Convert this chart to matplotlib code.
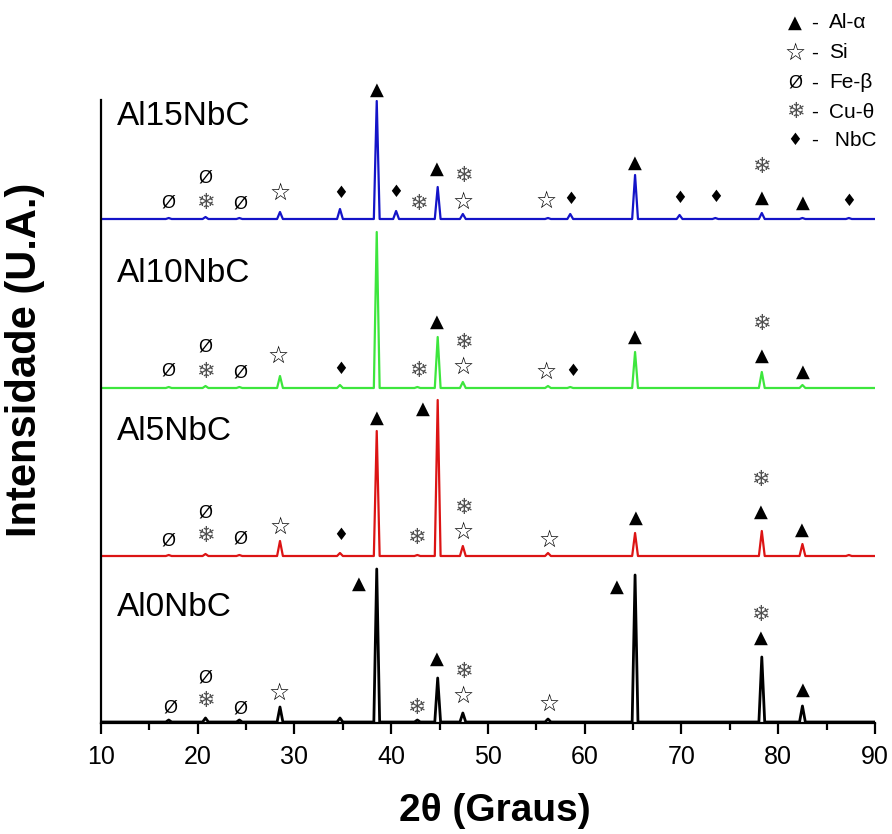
import matplotlib
matplotlib.use("Agg")
import matplotlib.pyplot as plt
from matplotlib.ticker import MultipleLocator

# amostras, de cima para baixo
samples = ["Al15NbC", "Al10NbC", "Al5NbC", "Al0NbC"]
colors = ["#1414c8", "#3de63d", "#dc1414", "#000000"]
widths = [1.6, 1.6, 1.6, 2.0]
offsets = [504, 335, 167, 1]          # deslocamento vertical de cada difratograma
label_h = [102, 114, 124, 115]        # altura do nome da amostra acima da linha base

# picos (2theta, intensidade relativa)
pk_15 = [(17.0, 1), (20.8, 2), (24.3, 1), (28.5, 7), (34.7, 10), (38.5, 118),
         (40.5, 8), (44.8, 32), (47.4, 5), (56.2, 1), (58.5, 5), (65.2, 44),
         (69.8, 4), (73.5, 1), (78.3, 6), (82.5, 1), (87.3, 1)]
pk_10 = [(17.0, 1), (20.8, 2), (24.3, 1), (28.5, 12), (34.7, 3), (38.5, 156),
         (42.7, 1), (44.8, 51), (47.4, 6), (56.2, 2), (58.5, 1), (65.2, 36),
         (78.3, 16), (82.5, 3)]
pk_5 = [(17.0, 1), (20.8, 2), (24.3, 1), (28.5, 15), (34.7, 3), (38.5, 125),
        (42.7, 1), (44.8, 156), (47.4, 10), (56.2, 3), (65.2, 23), (78.3, 25),
        (82.5, 12), (87.3, 1)]
pk_0 = [(17.0, 2), (20.8, 4), (24.3, 2), (28.5, 15), (34.7, 4), (38.5, 153),
        (42.7, 2), (44.8, 44), (47.4, 9), (56.2, 3), (65.2, 147), (78.3, 65),
        (82.5, 16)]
peaks = [pk_15, pk_10, pk_5, pk_0]

# identificacao das fases (2theta, simbolo, altura acima da linha base)
TRI, STAR, FE, CU, NB = "\u25B2", "\u2606", "\u00D8", "\u2744", "\u2666"
ann_15 = [(17.0, FE, 16), (20.8, CU, 16), (20.8, FE, 41), (24.4, FE, 15),
          (28.5, STAR, 26), (34.8, NB, 26), (38.5, TRI, 129), (40.5, NB, 27),
          (42.8, CU, 15), (44.7, TRI, 50), (47.4, CU, 43), (47.4, STAR, 17),
          (56.0, STAR, 18), (58.5, NB, 20), (65.2, TRI, 56), (69.8, NB, 21),
          (73.5, NB, 22), (78.3, CU, 52), (78.3, TRI, 21), (82.5, TRI, 16),
          (87.3, NB, 18)]
ann_10 = [(17.0, FE, 17), (20.8, CU, 16), (20.8, FE, 41), (24.4, FE, 15),
          (28.3, STAR, 32), (34.8, NB, 19), (42.8, CU, 17), (44.7, TRI, 66),
          (47.4, CU, 45), (47.4, STAR, 21), (56.0, STAR, 16), (58.7, NB, 17),
          (65.2, TRI, 51), (78.3, CU, 64), (78.3, TRI, 32), (82.5, TRI, 16)]
ann_5 = [(17.0, FE, 15), (20.8, CU, 20), (20.8, FE, 43), (24.4, FE, 17),
         (28.5, STAR, 29), (34.8, NB, 21), (38.5, TRI, 138), (42.6, CU, 18),
         (43.3, TRI, 147), (47.4, CU, 48), (47.4, STAR, 24), (56.3, STAR, 16),
         (65.3, TRI, 38), (78.2, CU, 76), (78.2, TRI, 44), (82.4, TRI, 26)]
ann_0 = [(17.2, FE, 14), (20.8, CU, 21), (20.8, FE, 44), (24.4, FE, 13),
         (28.4, STAR, 29), (36.7, TRI, 138), (42.6, CU, 14), (44.7, TRI, 63),
         (47.4, CU, 50), (47.4, STAR, 26), (56.3, STAR, 18), (63.3, TRI, 135),
         (78.2, CU, 107), (78.2, TRI, 84), (82.5, TRI, 32)]
annotations = [ann_15, ann_10, ann_5, ann_0]

legend_sym = [TRI, STAR, FE, CU, NB]
legend_txt = ["Al-\u03b1", "Si", "Fe-\u03b2", "Cu-\u03b8", " NbC"]

sym_style = {
    TRI: dict(fontsize=13, color="black", family="DejaVu Sans"),
    STAR: dict(fontsize=17, color="black", family="DejaVu Sans"),
    FE: dict(fontsize=13, color="black", family="Liberation Sans"),
    CU: dict(fontsize=16, color="#505050", family="DejaVu Sans"),
    NB: dict(fontsize=12, color="black", family="DejaVu Sans"),
}

W, H = 892, 834
fig = plt.figure(figsize=(W / 100, H / 100), dpi=100)
ax = fig.add_axes([101 / W, (H - 723) / H, 774 / W, 623 / H])

half_w = 0.3
for name, col, lw, off, lh, pk, ann in zip(samples, colors, widths, offsets,
                                            label_h, peaks, annotations):
    xs, ys = [10.0], [0.0]
    for pos, h in pk:
        xs += [pos - half_w, pos, pos + half_w]
        ys += [0.0, h, 0.0]
    xs.append(90.0)
    ys.append(0.0)
    ax.plot(xs, [off + y for y in ys], color=col, lw=lw)
    for pos, sym, h in ann:
        ax.text(pos, off + h, sym, ha="center", va="center", **sym_style[sym])
    ax.text(11.65, off + lh, name, ha="left", va="center", fontsize=24,
            family="Liberation Sans")

ax.set_xlim(10, 90)
ax.set_ylim(0, 623)
ax.xaxis.set_major_locator(MultipleLocator(10))
ax.xaxis.set_minor_locator(MultipleLocator(5))
ax.tick_params(axis="x", which="major", direction="out", length=8, width=1.6,
               labelsize=18, pad=8)
ax.tick_params(axis="x", which="minor", direction="out", length=5, width=1.6)
ax.set_yticks([])
for lbl in ax.get_xticklabels():
    lbl.set_family("Liberation Sans")
for s in ["top", "right"]:
    ax.spines[s].set_visible(False)
ax.spines["left"].set_linewidth(1.6)
ax.spines["bottom"].set_linewidth(1.6)

ax.set_xlabel("2\u03b8 (Graus)", fontsize=28, fontweight="bold",
              family="Liberation Sans")
ax.xaxis.set_label_coords((495 - 101) / 774, -(811 - 723) / 623)
ax.xaxis.label.set_va("center")
ax.set_ylabel("Intensidade (U.A.)", fontsize=30, fontweight="bold",
              family="Liberation Sans")
ax.yaxis.set_label_coords(-(101 - 25) / 774, (723 - 360) / 623)
ax.yaxis.label.set_va("center")

# legenda das fases
leg_y = [23, 53, 83, 112, 140]
for sym, txt, y in zip(legend_sym, legend_txt, leg_y):
    fig.text(795 / W, 1 - y / H, sym, ha="center", va="center", **sym_style[sym])
    fig.text(815 / W, 1 - y / H, "-", ha="center", va="center", fontsize=15,
             family="Liberation Sans")
    fig.text(829 / W, 1 - y / H, txt, ha="left", va="center", fontsize=15,
             family="Liberation Sans")

fig.savefig("out.png", dpi=100)
